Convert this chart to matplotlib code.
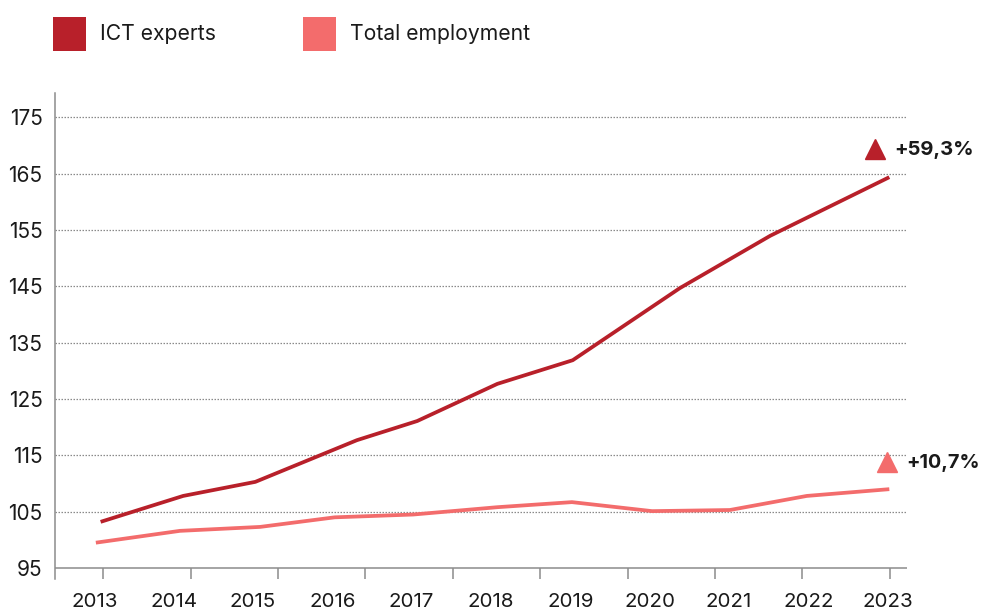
import matplotlib
matplotlib.use("Agg")
import matplotlib.pyplot as plt
from matplotlib.patches import Rectangle

plt.rcParams['font.family'] = ['Inter', 'DejaVu Sans']

# Index series (fractional year positions of each vertex)
ict_x = [2013.08, 2014.12, 2015.03, 2016.31, 2017.07, 2018.08, 2019.03, 2020.38, 2021.52, 2023.02]
ict_y = [103.2, 107.8, 110.3, 117.7, 121.1, 127.7, 131.9, 144.7, 154.0, 164.4]

total_x = [2013.02, 2014.08, 2015.09, 2016.03, 2017.02, 2018.08, 2019.02, 2020.03, 2021.01, 2021.98, 2023.02]
total_y = [99.5, 101.6, 102.3, 104.0, 104.5, 105.8, 106.7, 105.1, 105.3, 107.8, 109.0]

years = list(range(2013, 2024))
y_ticks = [95, 105, 115, 125, 135, 145, 155, 165, 175]

series_names = ["ICT experts", "Total employment"]
changes = ["+59,3%", "+10,7%"]

c_ict = "#B8202A"
c_total = "#F36C6C"
grid_c = "#8a8a8a"
axis_c = "#8c8c8c"
text_c = "#1a1a1a"

fig = plt.figure(figsize=(9.82, 6.12), dpi=100)
ax = fig.add_axes([55 / 982, (612 - 579) / 612, (907 - 55) / 982, (579 - 92.7) / 612])

ax.set_xlim(2012.505, 2023.243)
ax.set_ylim(93.05, 179.4)

# horizontal guides
for v in y_ticks[1:]:
    ax.axhline(v, color=grid_c, lw=0.9, ls=(0, (1.2, 1.2)), zorder=1)
ax.axhline(95, color=axis_c, lw=1.1, zorder=1)

ax.plot(total_x, total_y, color=c_total, lw=2.7, solid_capstyle='butt', zorder=3)
ax.plot(ict_x, ict_y, color=c_ict, lw=2.7, solid_capstyle='butt', zorder=4)

# change markers and labels
ax.plot([2022.84], [169.4], marker='^', ms=14.5, color=c_ict, ls='none', clip_on=False, zorder=5)
ax.text(2023.08, 169.2, changes[0], fontsize=14.5, fontweight='bold', color=text_c,
        va='center', ha='left', clip_on=False)
ax.plot([2022.99], [113.9], marker='^', ms=14.5, color=c_total, ls='none', clip_on=False, zorder=5)
ax.text(2023.23, 113.7, changes[1], fontsize=14.3, fontweight='bold', color=text_c,
        va='center', ha='left', clip_on=False)

# spines
for s in ['top', 'right', 'bottom']:
    ax.spines[s].set_visible(False)
ax.spines['left'].set_color(axis_c)
ax.spines['left'].set_linewidth(1.1)

ax.set_yticks(y_ticks)
ax.set_yticklabels([str(v) for v in y_ticks])
ax.tick_params(axis='y', length=0, pad=9, labelsize=15, labelcolor=text_c)

ax.set_xticks(years)
ax.set_xticklabels([str(y) for y in years])
ax.tick_params(axis='x', which='major', length=0, pad=10, labelsize=14.8, labelcolor=text_c)
tick_marks = [2013.113 + 1.1016 * k for k in range(10)]
ax.set_xticks(tick_marks, minor=True)
ax.tick_params(axis='x', which='minor', direction='in', length=8, width=1.1, color=axis_c)

# legend
for (x0, x1, name, col, tx) in [(52.5, 85.5, series_names[0], c_ict, 100),
                                 (302.5, 335.5, series_names[1], c_total, 350)]:
    fig.patches.append(Rectangle((x0 / 982, (612 - 51) / 612), (x1 - x0) / 982, 34 / 612,
                                 transform=fig.transFigure, color=col, lw=0))
    fig.text(tx / 982, (612 - 33.5) / 612, name, fontsize=15.2, color=text_c, va='center', ha='left')

fig.savefig("out.png", dpi=100)
